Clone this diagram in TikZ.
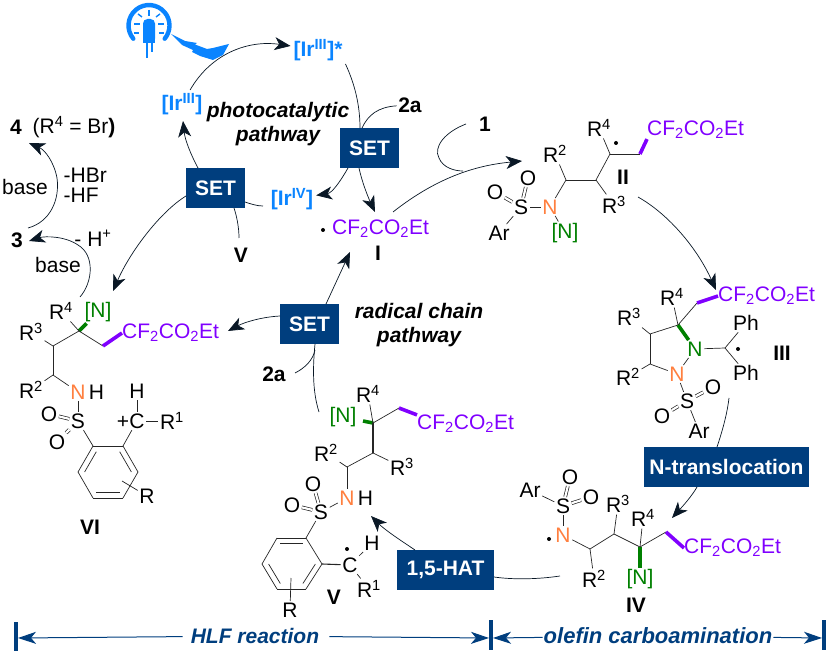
\documentclass[tikz,border=0pt]{standalone}
\usepackage{fontspec}
\setmainfont{Liberation Sans}
\usepackage{tikz}
\usetikzlibrary{positioning,arrows.meta,calc}
\definecolor{setblue}{RGB}{0, 62, 126}
\definecolor{irblue}{RGB}{10, 132, 255}
\definecolor{cfpurple}{RGB}{128, 0, 255}
\definecolor{norange}{RGB}{255, 127, 63}
\definecolor{ngreen}{RGB}{0, 128, 0}
\definecolor{inkdark}{RGB}{10, 24, 38}
\tikzstyle{atom} = [inner sep=1.5pt, text=black, font=\fontsize{21}{21}\selectfont]
\tikzstyle{nat} = [atom, text=norange]
\tikzstyle{gnat} = [atom, text=ngreen]
\tikzstyle{chain} = [atom, text=cfpurple, anchor=west, inner sep=0pt]
\tikzstyle{cpd} = [inner sep=1.5pt, text=black, font=\fontsize{21}{21}\selectfont\bfseries]
\tikzstyle{irtext} = [inner sep=1pt, outer sep=2pt, text=irblue, font=\fontsize{21}{21}\selectfont\bfseries]
\tikzstyle{setbox} = [rectangle, fill=setblue, text=white, inner sep=0pt, minimum height=40pt, font=\fontsize{21}{21}\selectfont\bfseries]
\tikzstyle{pathtxt} = [inner sep=1pt, align=center, text=black, font=\fontsize{21}{24}\selectfont\bfseries\itshape]
\tikzstyle{rangetxt} = [inner sep=1pt, text=setblue, font=\fontsize{21}{21}\selectfont\bfseries\itshape]
\tikzstyle{raddot} = [circle, fill=black, inner sep=0pt, minimum size=4pt]
\tikzstyle{bond} = [draw, line width=.7pt, color=black!85]
\tikzstyle{dbond} = [draw, double, double distance=2.2pt, line width=.7pt, color=black!85]
\tikzstyle{pbond} = [draw, line width=3.6pt, color=cfpurple]
\tikzstyle{gbond} = [draw, line width=3.6pt, color=ngreen]
\tikzstyle{tedge} = [draw, line width=.7pt, color=inkdark, >={Stealth[length=16pt,width=13pt,inset=4.5pt]}, ->]
\tikzstyle{tline} = [draw, line width=.7pt, color=inkdark]
\tikzstyle{rangeedge} = [draw, line width=1pt, color=setblue, >={Stealth[length=18pt,width=12pt,inset=5pt]}, ->]
\tikzstyle{rangebar} = [draw, line width=4pt, color=setblue]
\tikzstyle{led} = [draw=irblue, line width=1.4pt]

\begin{document}
\begin{tikzpicture}[x=1pt, y=-1pt]
\useasboundingbox (0,0) rectangle (831,655);

% lamp =============================
\draw[irblue, line width=4.4pt, line cap=round] (133.3,38.7) arc[start angle=140, end angle=400, radius=20.5];
\fill[irblue, rounded corners=4.5pt] (143,43) -- (143,19) -- (155,19) -- (155,43) -- cycle;
\fill[irblue] (143,36) rectangle (155,43);
\path[led] (147,43) -- (147,58);
\path[led] (152,43) -- (152,52);
\path[led] (149,10) -- (149,16);
\path[led] (138,14) -- (142,17);
\path[led] (160,14) -- (156,17);
\path[led] (134,24) -- (140,24);
\path[led] (158,24) -- (164,24);
\path[led] (134,33) -- (139,33);
\path[led] (159,33) -- (164,33);
\fill[irblue] (171,34) -- (185,41) -- (197,43) -- (195,44.5) -- (207,49) -- (213,48) -- (229,44) -- (223,55) -- (213,60) -- (200,56) -- (192,52) -- (193,50) -- (182,45) -- cycle;

% catalyst cycle =============================
\node[irtext] (irstar) at (318,50) {[Ir\textsuperscript{III}]*};
\node[irtext] (ir3) at (182,104) {[Ir\textsuperscript{III}]};
\node[irtext] (ir4) at (292,199) {[Ir\textsuperscript{IV}]};
\node[setbox, minimum width=59pt] (set1) at (369.5,148) {SET};
\node[setbox, minimum width=59pt] (set2) at (215.5,188) {SET};
\node[setbox, minimum width=59pt] (set3) at (309.5,324) {SET};
\node[cpd] (twoa1) at (410,105) {2a};
\node[cpd] (twoa2) at (274,374) {2a};
\node[cpd] (v1) at (241,255) {V};
\node[pathtxt] (photo) at (278,124) {photocatalytic\\pathway};
\node[pathtxt] (chain) at (419,325) {radical chain\\pathway};

% left side products
\node[cpd] (four) at (16,127) {4};
\node[atom] (four1) at (74,127) {(R\textsuperscript{4} = Br\textbf{)}};
\node[cpd] (three) at (17,240) {3};
\node[atom] (base1) at (25,187) {base};
\node[atom, anchor=west] (hbr) at (62,175) {-HBr};
\node[atom, below=2pt of hbr.south west, anchor=north west] (hf) {-HF};
\node[atom] (hplus) at (93,238) {- H\textsuperscript{+}};
\node[atom] (base2) at (58,265) {base};

% radical I =============================
\node[raddot] (cfdot) at (323,230) {};
\node[chain] (cf1) at (332,229) {CF\textsubscript{2}CO\textsubscript{2}Et};
\node[cpd] (one1) at (378,253) {I};
\node[cpd] (one) at (485,124) {1};

% intermediate II =============================
\coordinate (iic1) at (566,180);
\coordinate (iic2) at (596,180);
\coordinate (iic3) at (610,154);
\coordinate (iic4) at (640,154);
\node[atom] (iir2) at (555,154) {R\textsuperscript{2}};
\node[atom] (iir3) at (614,205) {R\textsuperscript{3}};
\node[atom] (iir4) at (599,128) {R\textsuperscript{4}};
\node[raddot] (iidot) at (616,143) {};
\node[chain] (iicf) at (647,130) {CF\textsubscript{2}CO\textsubscript{2}Et};
\node[cpd] (ii) at (623,177) {II};
\node[nat] (iin) at (550,207) {N};
\node[gnat] (iinn) at (565,233) {[N]};
\node[atom] (iis) at (521,207) {S};
\node[atom] (iio1) at (528,178) {O};
\node[atom] (iio2) at (495,192) {O};
\node[atom] (iiar) at (499,233) {Ar};

% intermediate III =============================
\coordinate (iiic1) at (678,325);
\coordinate (iiic2) at (650,334);
\coordinate (iiic3) at (650,364);
\coordinate (iiic4) at (697,303);
\coordinate (iiic5) at (725,348);
\node[chain] (iiicf) at (718,296) {CF\textsubscript{2}CO\textsubscript{2}Et};
\node[atom] (iiir4) at (672,297) {R\textsuperscript{4}};
\node[atom] (iiir3) at (629,317) {R\textsuperscript{3}};
\node[atom] (iiir2) at (628,377) {R\textsuperscript{2}};
\node[nat] (iiin) at (677,374) {N};
\node[gnat] (iiinn) at (695,349) {N};
\node[atom] (iiiph1) at (746,323) {Ph};
\node[atom] (iiiph2) at (746,373) {Ph};
\node[raddot] (iiidot) at (738,349) {};
\node[cpd] (iii) at (782,353) {III};
\node[atom] (iiis) at (687,401) {S};
\node[atom] (iiio1) at (713,387) {O};
\node[atom] (iiio2) at (662,416) {O};
\node[atom] (iiiar) at (699,431) {Ar};
\node[setbox, minimum width=165pt] (ntrans) at (726.5,467) {N-translocation};

% intermediate IV =============================
\coordinate (ivc1) at (590,549);
\coordinate (ivc2) at (614,534);
\coordinate (ivc3) at (640,547);
\coordinate (ivc4) at (666,532);
\node[atom] (ivar) at (530,490) {Ar};
\node[atom] (ivs) at (563,506) {S};
\node[atom] (ivo1) at (570,477) {O};
\node[atom] (ivo2) at (591,497) {O};
\node[nat] (ivn) at (563,535) {N};
\node[raddot] (ivdot) at (549,539) {};
\node[atom] (ivr2) at (594,579) {R\textsuperscript{2}};
\node[atom] (ivr3) at (618,504) {R\textsuperscript{3}};
\node[atom] (ivr4) at (643,518) {R\textsuperscript{4}};
\node[gnat] (ivnn) at (640,579) {[N]};
\node[cpd] (iv) at (636,605) {IV};
\node[chain] (ivcf) at (684,548) {CF\textsubscript{2}CO\textsubscript{2}Et};
\node[setbox, minimum width=97pt] (hat) at (445.5,570) {1,5-HAT};

% intermediate V =============================
\coordinate (vc1) at (373,423);
\coordinate (vc2) at (399,408);
\coordinate (vc3) at (373,453);
\coordinate (vc4) at (347,467);
\coordinate (vb1) at (306,538);
\coordinate (vb2) at (322,564);
\coordinate (vb3) at (306,589);
\coordinate (vb4) at (277,589);
\coordinate (vb5) at (262,564);
\coordinate (vb6) at (277,538);
\coordinate (vb0) at (292,564);
\coordinate (vb7) at (291,578);
\node[gnat] (vnn) at (343,417) {[N]};
\node[atom] (vr4) at (368,394) {R\textsuperscript{4}};
\node[chain] (vcf) at (417,424) {CF\textsubscript{2}CO\textsubscript{2}Et};
\node[atom] (vr3) at (402,467) {R\textsuperscript{3}};
\node[atom] (vr2) at (326,453) {R\textsuperscript{2}};
\node[nat] (vn) at (347,498) {N};
\node[atom, right=0pt of vn] (vh) {H};
\node[atom] (vs) at (321,512) {S};
\node[atom] (vo1) at (313,484) {O};
\node[atom] (vo2) at (292,505) {O};
\node[atom] (vr) at (290,610) {R};
\node[atom] (vcc) at (350,565) {C};
\node[raddot] (vdot) at (347,549) {};
\node[atom] (vh2) at (372,543) {H};
\node[atom] (vr1) at (369,589) {R\textsuperscript{1}};
\node[cpd] (v) at (334,597) {V};

% intermediate VI =============================
\coordinate (vic1) at (79,331);
\coordinate (vic2) at (53,346);
\coordinate (vic3) at (53,375);
\coordinate (vic4) at (103,346);
\coordinate (vib1) at (93,446);
\coordinate (vib2) at (123,446);
\coordinate (vib3) at (138,472);
\coordinate (vib4) at (123,498);
\coordinate (vib5) at (93,498);
\coordinate (vib6) at (78,472);
\coordinate (vib0) at (108,472);
\coordinate (vib7) at (122,481);
\node[atom] (vir4) at (61,311) {R\textsuperscript{4}};
\node[gnat] (vinn) at (98,312) {[N]};
\node[chain] (vicf) at (122,333) {CF\textsubscript{2}CO\textsubscript{2}Et};
\node[atom] (vir3) at (31,332) {R\textsuperscript{3}};
\node[atom] (vir2) at (31,390) {R\textsuperscript{2}};
\node[nat] (vin) at (78,392) {N};
\node[atom, right=0pt of vin] (vih) {H};
\node[atom] (vis) at (78,421) {S};
\node[atom] (vio1) at (49,414) {O};
\node[atom] (vio2) at (57,442) {O};
\node[atom] (vicc) at (137,421) {C};
\node[atom] (viplus) at (123,422) {+};
\node[atom] (vih2) at (137,391) {H};
\node[atom] (vir1) at (172,421) {R\textsuperscript{1}};
\node[atom] (vir) at (147,496) {R};
\node[cpd] (vi) at (90,527) {VI};

% range labels =============================
\node[rangetxt] (hlf) at (255,636) {HLF reaction};
\node[rangetxt, font=\fontsize{22}{22}\selectfont\bfseries\itshape] (olefin) at (658,636) {olefin carboamination};
\coordinate (bar1a) at (16,622);
\coordinate (bar1b) at (16,651);
\coordinate (bar1c) at (18,638);
\coordinate (bar2a) at (491,620);
\coordinate (bar2b) at (491,650);
\coordinate (bar2c) at (489,638);
\coordinate (bar2d) at (493,638);
\coordinate (bar3a) at (824,620);
\coordinate (bar3b) at (824,650);
\coordinate (bar3c) at (822,638);

% free arrow ends
\coordinate (set1a) at (360,128);
\coordinate (set1b) at (362,128);
\coordinate (set1c) at (348,168);
\coordinate (set1d) at (359,168);
\coordinate (cf1a) at (375,212);
\coordinate (cf1b) at (393,212);
\coordinate (iia) at (522,161);
\coordinate (onea) at (466,124);
\coordinate (oneb) at (463,171);
\coordinate (iib) at (638,197);
\coordinate (iiicfa) at (716,290);
\coordinate (iiib) at (729,398);
\coordinate (ntransa) at (717,447);
\coordinate (ntransb) at (697,487);
\coordinate (iva) at (672,518);
\coordinate (hata) at (415,550);
\coordinate (hatb) at (494,577);
\coordinate (ivb) at (560,576);
\coordinate (va) at (371,516);
\coordinate (vb) at (319,412);
\coordinate (set3a) at (315,344);
\coordinate (set3b) at (315,350);
\coordinate (twoa2a) at (295,373);
\coordinate (set3c) at (326,304);
\coordinate (cf1c) at (350,252);
\coordinate (set3d) at (280,316);
\coordinate (vicfa) at (228,331);
\coordinate (set2a) at (198,168);
\coordinate (ir3a) at (183,121);
\coordinate (set2b) at (245,202);
\coordinate (ir4a) at (263,206);
\coordinate (set2c) at (234,208);
\coordinate (v1a) at (239,238);
\coordinate (set2d) at (186,196);
\coordinate (vitop) at (113,291);
\coordinate (vib) at (80,297);
\coordinate (threea) at (29,241);
\coordinate (threeb) at (28,228);
\coordinate (foura) at (29,143);

%edges
\path[tedge] (ir3) .. controls (212,52) and (250,40) .. (irstar);
\path[tline] (irstar.south east) .. controls (352,78) and (360,100) .. (set1a);
\path[tline] (twoa1) .. controls (378,107) and (368,115) .. (set1b);
\path[tedge] (set1c) .. controls (340,182) and (332,193) .. (ir4);
\path[tedge] (set1d) .. controls (362,182) and (368,197) .. (cf1a);
\path[tedge] (cf1b) .. controls (440,175) and (480,165) .. (iia);
\path[tline] (onea) .. controls (445,132) and (433,147) .. (439,158) .. controls (443,168) and (455,171) .. (oneb);
\path[tedge] (iib) .. controls (670,215) and (698,250) .. (iiicfa);
\path[tline] (iiib) .. controls (727,415) and (722,432) .. (ntransa);
\path[tedge] (ntransb) .. controls (692,496) and (682,507) .. (iva);
\path[tline] (hatb) .. controls (515,580) and (540,579) .. (ivb);
\path[tedge] (hata) .. controls (400,540) and (385,530) .. (va);
\path[tline] (vb) .. controls (312,390) and (313,365) .. (set3a);
\path[tline] (twoa2a) .. controls (305,368) and (313,360) .. (set3b);
\path[tedge] (set3c) -- (cf1c);
\path[tedge] (set3d) .. controls (262,317) and (245,322) .. (vicfa);
\path[tedge] (set2a) .. controls (191,155) and (185,140) .. (ir3a);
\path[tline] (set2b) .. controls (251,204) and (257,206) .. (ir4a);
\path[tline] (set2c) .. controls (237,217) and (239,228) .. (v1a);
\path[tedge] (set2d) .. controls (160,212) and (130,252) .. (vitop);
\path[tedge] (vib) .. controls (93,282) and (95,255) .. (78,245) .. controls (65,236) and (45,236) .. (threea);
\path[tedge] (threeb) .. controls (50,222) and (60,200) .. (57,178) .. controls (54,162) and (45,150) .. (foura);

% range edges
\path[rangebar] (bar1a) -- (bar1b);
\path[rangebar] (bar2a) -- (bar2b);
\path[rangebar] (bar3a) -- (bar3b);
\path[rangeedge, shorten <=7pt] (hlf) -- (bar1c);
\path[rangeedge, shorten <=9pt] (hlf) -- (bar2c);
\path[rangeedge] (olefin) -- (bar2d);
\path[rangeedge] (olefin) -- (bar3c);

% bonds II
\path[bond] (iic1) -- (iic2);
\path[bond] (iic2) -- (iic3);
\path[bond] (iic3) -- (iic4);
\path[bond] (iic3) -- (iir4);
\path[bond] (iic2) -- (iir3);
\path[bond] (iic1) -- (iir2);
\path[bond] (iic1) -- (iin);
\path[bond] (iin) -- (iis);
\path[bond] (iin) -- (iinn);
\path[bond] (iis) -- (iiar);
\path[dbond] (iis) -- (iio1);
\path[dbond] (iis) -- (iio2);
\path[pbond] (iic4) -- (iicf.south west);

% bonds III
\path[bond] (iiic1) -- (iiic2);
\path[bond] (iiic2) -- (iiic3);
\path[bond] (iiic3) -- (iiin);
\path[bond] (iiin) -- (iiinn);
\path[gbond] (iiic1) -- (iiinn);
\path[bond] (iiic2) -- (iiir3);
\path[bond] (iiic3) -- (iiir2);
\path[bond] (iiic1) -- (iiir4);
\path[bond] (iiic1) -- (iiic4);
\path[pbond] (iiic4) -- (iiicf.west);
\path[bond] (iiinn) -- (iiic5);
\path[bond] (iiic5) -- (iiiph1);
\path[bond] (iiic5) -- (iiiph2);
\path[bond] (iiin) -- (iiis);
\path[bond] (iiis) -- (iiiar);
\path[dbond] (iiis) -- (iiio1);
\path[dbond] (iiis) -- (iiio2);

% bonds IV
\path[bond] (ivar) -- (ivs);
\path[dbond] (ivs) -- (ivo1);
\path[dbond] (ivs) -- (ivo2);
\path[bond] (ivs) -- (ivn);
\path[bond] (ivn) -- (ivc1);
\path[bond] (ivc1) -- (ivr2);
\path[bond] (ivc1) -- (ivc2);
\path[bond] (ivc2) -- (ivr3);
\path[bond] (ivc2) -- (ivc3);
\path[bond] (ivc3) -- (ivr4);
\path[gbond] (ivc3) -- (ivnn);
\path[bond] (ivc3) -- (ivc4);
\path[pbond] (ivc4) -- (ivcf.west);

% bonds V
\path[gbond, shorten >=5pt] (vc1) -- (vnn);
\path[bond] (vc1) -- (vr4);
\path[bond] (vc1) -- (vc2);
\path[pbond] (vc2) -- (vcf.north west);
\path[bond, line width=1.1pt] (vc1) -- (vc3);
\path[bond] (vc3) -- (vr3);
\path[bond] (vc3) -- (vc4);
\path[bond] (vc4) -- (vr2);
\path[bond] (vc4) -- (vn);
\path[bond] (vn) -- (vs);
\path[dbond] (vs) -- (vo1);
\path[dbond] (vs) -- (vo2);
\path[bond] (vs) -- (vb1);
\path[bond] (vb1) -- (vb2);
\path[bond] (vb2) -- (vb3);
\path[bond] (vb3) -- (vb4);
\path[bond] (vb4) -- (vb5);
\path[bond] (vb5) -- (vb6);
\path[bond] (vb6) -- (vb1);
\path[bond] ($(vb0)!.78!(vb6)$) -- ($(vb0)!.78!(vb1)$);
\path[bond] ($(vb0)!.78!(vb2)$) -- ($(vb0)!.78!(vb3)$);
\path[bond] ($(vb0)!.78!(vb4)$) -- ($(vb0)!.78!(vb5)$);
\path[bond] (vb7) -- (vr);
\path[bond, line width=1.1pt] (vb2) -- (vcc);
\path[bond] (vcc) -- (vh2);
\path[bond] (vcc) -- (vr1);

% bonds VI
\path[gbond] (vic1) -- (vinn);
\path[bond] (vic1) -- (vir4);
\path[bond] (vic1) -- (vic2);
\path[bond] (vic2) -- (vir3);
\path[bond] (vic2) -- (vic3);
\path[bond] (vic3) -- (vir2);
\path[bond] (vic3) -- (vin);
\path[bond] (vin) -- (vis);
\path[dbond] (vis) -- (vio1);
\path[dbond] (vis) -- (vio2);
\path[bond] (vis) -- (vib1);
\path[bond] (vic1) -- (vic4);
\path[pbond] (vic4) -- (vicf.west);
\path[bond] (vib1) -- (vib2);
\path[bond] (vib2) -- (vib3);
\path[bond] (vib3) -- (vib4);
\path[bond] (vib4) -- (vib5);
\path[bond] (vib5) -- (vib6);
\path[bond] (vib6) -- (vib1);
\path[bond] ($(vib0)!.78!(vib6)$) -- ($(vib0)!.78!(vib1)$);
\path[bond] ($(vib0)!.78!(vib2)$) -- ($(vib0)!.78!(vib3)$);
\path[bond] ($(vib0)!.78!(vib4)$) -- ($(vib0)!.78!(vib5)$);
\path[bond] (vib7) -- (vir);
\path[bond] (vib2) -- (vicc);
\path[bond] (vicc) -- (vih2);
\path[bond] (vicc) -- (vir1);

\end{tikzpicture}
\end{document}
